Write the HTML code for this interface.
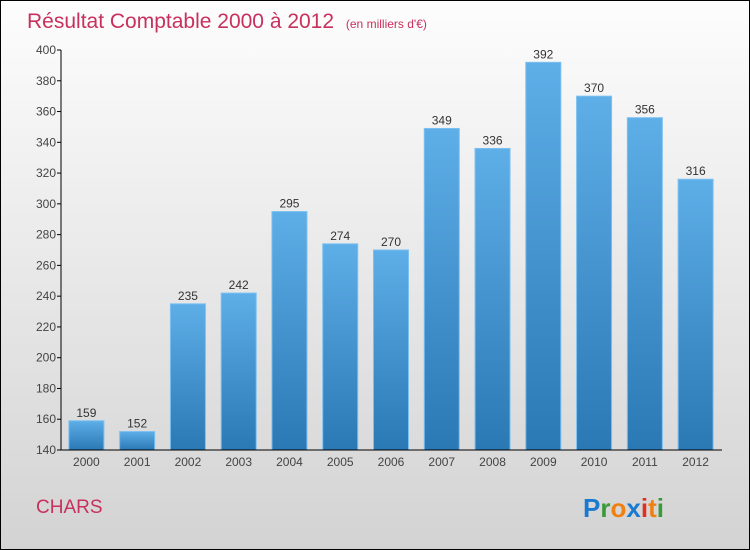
<!DOCTYPE html>
<html><head><meta charset="utf-8"><style>
body{margin:0}
#c{position:relative;width:748px;height:548px;border:1px solid #000;background:linear-gradient(#fdfdfd,#d3d3d3);font-family:"Liberation Sans",sans-serif;overflow:hidden}
</style></head><body>
<div id="c">
<svg width="748" height="548">
<defs><linearGradient id="bg" x1="0" y1="0" x2="0" y2="1"><stop offset="0" stop-color="#5eaee8"/><stop offset="1" stop-color="#2a78b4"/></linearGradient></defs>
<text x="26" y="27" font-size="21" fill="#c8305e">Résultat Comptable 2000 à 2012 <tspan font-size="12" dx="6">(en milliers d'€)</tspan></text>
<g id="plot"></g>
<text x="35" y="512" font-size="19" fill="#c8305e">CHARS</text>
<text x="582" y="516" font-size="26" font-weight="bold"><tspan fill="#1a7ad0">P</tspan><tspan fill="#3a9a3a">r</tspan><tspan fill="#f08010">o</tspan><tspan fill="#1a7ad0">x</tspan><tspan fill="#e03020">i</tspan><tspan fill="#f08010">t</tspan><tspan fill="#3a9a3a">i</tspan></text>
</svg>
</div>
<script>
const years=["2000","2001","2002","2003","2004","2005","2006","2007","2008","2009","2010","2011","2012"];
const values=[159,152,235,242,295,274,270,349,336,392,370,356,316];
const yTicks=[140,160,180,200,220,240,260,280,300,320,340,360,380,400];
const ns="http://www.w3.org/2000/svg";
const g=document.getElementById("plot");
const x0=60,x1=720,yTop=49,yBot=449,vMin=140,vMax=400;
const y=v=>yBot-(v-vMin)/(vMax-vMin)*(yBot-yTop);
const step=(x1-x0)/years.length;
function mk(t,a){const e=document.createElementNS(ns,t);for(const k in a)e.setAttribute(k,a[k]);g.appendChild(e);return e;}
yTicks.forEach(v=>{
 const l=mk("line",{x1:x0-4,x2:x0,y1:y(v),y2:y(v),stroke:"#000"});
 
 
 const t=mk("text",{x:x0-5,y:y(v)+4,"font-size":12,"text-anchor":"end",fill:"#444"});
 t.textContent=v;
 
 
});
years.forEach((yr,i)=>{
 const cx=x0+step*(i+0.5),v=values[i];
 const r=mk("rect",{x:cx-17.5,y:y(v),width:35,height:yBot-y(v),fill:"url(#bg)",stroke:"#7cc0f0","stroke-width":1});
 
 
 const vl=mk("text",{x:cx,y:y(v)-4,"font-size":12,"text-anchor":"middle",fill:"#333"});
 vl.textContent=v;
 
 
 const xl=mk("text",{x:cx,y:yBot+16,"font-size":12,"text-anchor":"middle",fill:"#444"});
 xl.textContent=yr;
 
 
});
const ya=mk("line",{x1:x0,x2:x0,y1:yTop,y2:yBot,stroke:"#000"});


const xa=mk("line",{x1:x0,x2:x1+1,y1:yBot,y2:yBot,stroke:"#000"});


</script>
</body></html>
